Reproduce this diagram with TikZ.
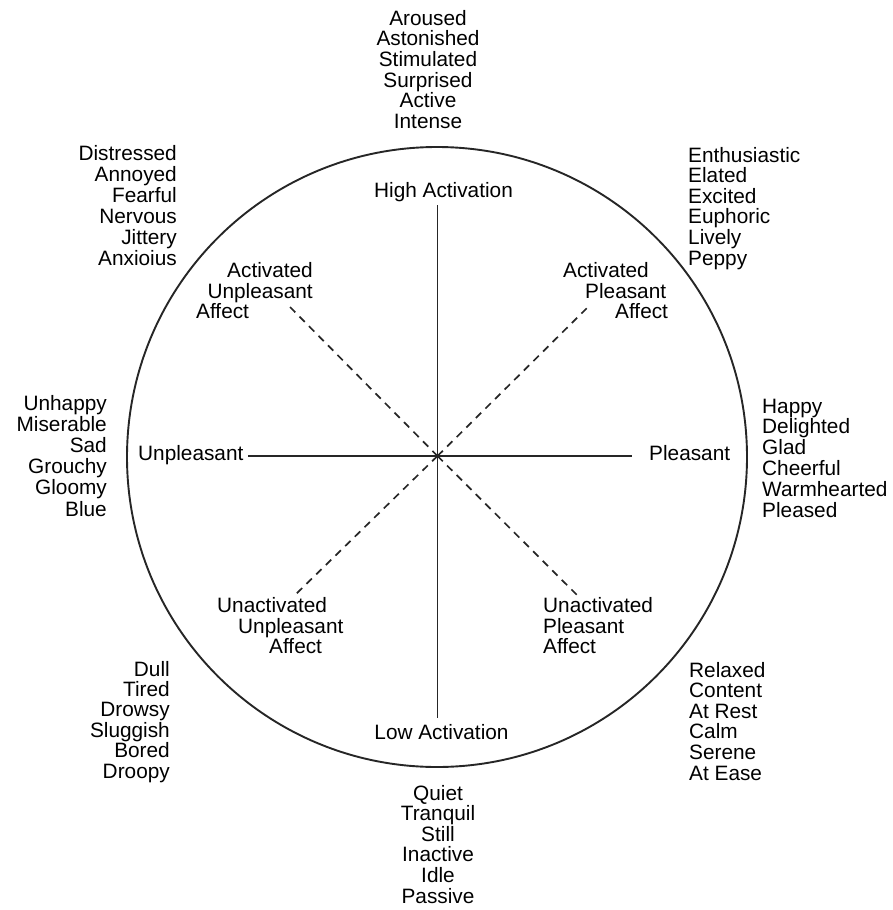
\documentclass[tikz,border=0pt]{standalone}
\usepackage{fontspec}
\setmainfont{Liberation Sans}
\begin{document}
\begin{tikzpicture}[x=1pt,y=-1pt,
  word/.style={font=\fontsize{20.8}{20.8}\selectfont, inner sep=0pt, text=black},
  axis/.style={line width=1.5pt, black!85},
  diag/.style={line width=1.7pt, black!85, dash pattern=on 7.5pt off 6pt},
  ring/.style={line width=1.9pt, black!85}]
\useasboundingbox (0,0) rectangle (892,910);
% circle
\coordinate (c) at (437.5,456);
\draw[ring] (437,457) circle[radius=310pt];
% axis labels
\node[word, anchor=base] (ha) at (443.5,197) {High Activation};
\node[word, anchor=base] (la) at (441.5,739) {Low Activation};
\node[word, anchor=base west] (un) at (138,460) {Unpleasant};
\node[word, anchor=base west] (pl) at (649,460) {Pleasant};
% axes
\coordinate (vt) at (437.5,205);
\coordinate (vb) at (437.5,718);
\coordinate (hl) at (248,456);
\coordinate (hr) at (632,456);
\draw[axis] (vt) -- (vb);
\draw[axis] (hl) -- (hr);
% diagonals
\coordinate (dtl) at (290,307);
\coordinate (dtr) at (588,307);
\coordinate (dbl) at (293,597);
\coordinate (dbr) at (579,597);
\draw[diag] (dtl) -- (c);
\draw[diag] (c) -- (dtr);
\draw[diag] (c) -- (dbl);
\draw[diag] (c) -- (dbr);
% quadrant labels
\node[word, anchor=base east] (aua1) at (313,277) {Activated};
\node[word, anchor=base east] (aua2) at (313,298) {Unpleasant};
\node[word, anchor=base west] (aua3) at (196,318) {Affect};
\node[word, anchor=base west] (apa1) at (563,277) {Activated};
\node[word, anchor=base west] (apa2) at (585,298) {Pleasant};
\node[word, anchor=base west] (apa3) at (615,318) {Affect};
\node[word, anchor=base west] (uua1) at (217,612) {Unactivated};
\node[word, anchor=base west] (uua2) at (238,633) {Unpleasant};
\node[word, anchor=base west] (uua3) at (269,653) {Affect};
\node[word, anchor=base west] (upa1) at (543,612) {Unactivated};
\node[word, anchor=base west] (upa2) at (543,633) {Pleasant};
\node[word, anchor=base west] (upa3) at (543,653) {Affect};
% word lists
\foreach \w [count=\i] in {Aroused,Astonished,Stimulated,Surprised,Active,Intense}
  \node[word, anchor=base] (top\i) at (428,{25+20.7*(\i-1)}) {\w};
\foreach \w [count=\i] in {Quiet,Tranquil,Still,Inactive,Idle,Passive}
  \node[word, anchor=base] (bot\i) at (438,{800+20.6*(\i-1)}) {\w};
\foreach \w [count=\i] in {Distressed,Annoyed,Fearful,Nervous,Jittery,Anxioius}
  \node[word, anchor=base east] (tl\i) at (177,{160+21*(\i-1)}) {\w};
\foreach \w [count=\i] in {Enthusiastic,Elated,Excited,Euphoric,Lively,Peppy}
  \node[word, anchor=base west] (tr\i) at (688,{162+20.6*(\i-1)}) {\w};
\foreach \w [count=\i] in {Unhappy,Miserable,Sad,Grouchy,Gloomy,Blue}
  \node[word, anchor=base east] (lf\i) at (107,{410+21.2*(\i-1)}) {\w};
\foreach \w [count=\i] in {Happy,Delighted,Glad,Cheerful,Warmhearted,Pleased}
  \node[word, anchor=base west] (rt\i) at (762,{413+20.8*(\i-1)}) {\w};
\foreach \w [count=\i] in {Dull,Tired,Drowsy,Sluggish,Bored,Droopy}
  \node[word, anchor=base east] (bl\i) at (170,{676+20.4*(\i-1)}) {\w};
\foreach \w [count=\i] in {Relaxed,Content,At Rest,Calm,Serene,At Ease}
  \node[word, anchor=base west] (br\i) at (689,{677+20.6*(\i-1)}) {\w};
\end{tikzpicture}
\end{document}
